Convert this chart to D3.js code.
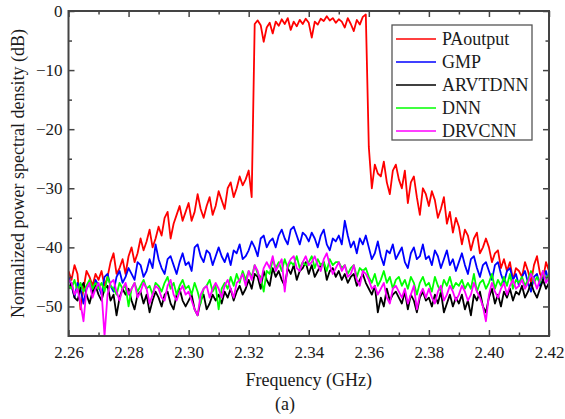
<!DOCTYPE html>
<html>
<head>
<meta charset="utf-8">
<script src="https://cdn.jsdelivr.net/npm/d3@7"></script>
<style>
  body { margin: 0; background: #fff; }
  svg text { font-family: "Liberation Serif", "Times New Roman", Times, "DejaVu Serif", serif; }
</style>
</head>
<body>
<div id="chart"></div>
<script>
// frequency grid, 1 MHz steps from 2.260 to 2.420 GHz
const freq = d3.range(161).map(i => +(2.26 + i * 0.001).toFixed(3));

const seriesNames = ["PAoutput", "GMP", "ARVTDNN", "DNN", "DRVCNN"];
const seriesColors = ["#ff0000", "#0000ff", "#000000", "#00ff00", "#ff00ff"];

const xTicks = [2.26, 2.28, 2.30, 2.32, 2.34, 2.36, 2.38, 2.40, 2.42];
const yTicks = [-50, -40, -30, -20, -10, 0];

// dB
const paOutput = [
  -44, -45.5, -43, -44.5, -50.5, -47, -44, -45, -46.5, -44.5,
  -45.5, -44, -46.5, -45, -42.5, -41, -44.5, -43.5, -42, -44.5,
  -41.5, -40, -42.5, -41, -38.5, -40.5, -39, -37, -40, -38.5,
  -36.5, -38, -35, -34, -38.5, -36, -34.5, -33, -35.5, -34,
  -32.5, -35.5, -34, -31, -33.5, -35, -33, -31.5, -34.5, -33,
  -30.5, -32, -33.5, -30, -29, -31.5, -30, -28, -29.5, -28.5,
  -27, -31.5,
  -2.2, -1.6, -2.4, -5.2, -2.8, -2, -3.8, -1.8, -2.5, -1.4,
  -2.2, -1.2, -3.2, -1.8, -2.6, -1.5, -2.2, -1.3, -2, -4.5,
  -1.8, -2.3, -1.3, -1.7, -0.9, -1.6, -1.2, -2, -1.4, -1.8,
  -2.8, -1.2, -2.2, -3.4, -1.5, -2.3, -1, -0.6,
  -23, -30, -26, -27.5, -28, -25.5, -29, -31, -27, -26,
  -28.5, -30, -27, -32.5, -29, -28, -31.5, -34.5, -30, -31,
  -33, -30.5, -32, -35, -33.5, -31.5, -36, -34, -37.5, -35,
  -36.5, -39.5, -37, -38, -40.5, -38.5, -37.5, -41, -40, -38.5,
  -40, -42.5, -41, -40.5, -43.5, -42, -44, -42.5, -45.5, -43.5,
  -44, -45, -42.5, -44, -46, -43, -41.5, -44.5, -45.5, -42.5, -44
];

const gmp = [
  -45, -46.5, -48.5, -46, -47, -49.5, -47, -46, -48, -45.5,
  -46.5, -48, -45, -44.5, -46.5, -47.5, -45, -44, -46, -45,
  -43.5, -44.5, -45.5, -42.5, -43, -45, -44, -42, -43.5, -39.5,
  -42, -43.5, -44.5, -42, -41.5, -43, -44.5, -42.5, -41, -43,
  -42.5, -44, -40, -39.5, -41.5, -42.5, -40.5, -41, -43, -41.5,
  -40, -41.5, -42.5, -41, -43, -40.5, -41, -39.5, -42, -41.5,
  -40.5, -39, -40, -41.5, -38.5, -38, -40, -39, -38.5, -40,
  -38, -37, -38.5, -39.5, -37, -36.5, -38, -39.5, -37.5, -38,
  -39, -37.5, -38.5, -40, -38, -37, -39.5, -40.5, -38.5, -39,
  -38, -39.5, -35.5, -38, -40, -39, -41, -38.5, -39.5, -38,
  -40, -42, -41, -39, -41.5, -43, -40.5, -41, -39.5, -42,
  -41, -40, -42.5, -43.5, -41, -40, -42, -41.5, -39.5, -42,
  -41.5, -43, -40.5, -41.5, -43.5, -42, -40.5, -43, -42, -44,
  -42.5, -41, -43, -44.5, -42, -41.5, -43.5, -45, -43, -42.5,
  -44, -45.5, -43, -42.5, -44.5, -46, -44, -43.5, -45.5, -44.5,
  -46.5, -45, -44, -46, -47.5, -45, -44.5, -46.5, -45.5, -44, -46
];

const arvtdnn = [
  -47, -46, -48.5, -49, -47, -46, -48, -49.5, -47.5, -46.5,
  -48, -49, -47, -46.5, -49, -48, -51.5, -48.5, -47, -48,
  -47, -49, -50.5, -48, -47.5, -49.5, -48, -51, -49, -47.5,
  -48.5, -50, -48, -47.5, -49.5, -50.5, -48, -47, -49, -50,
  -49, -48, -50.5, -51.5, -49, -48, -50.5, -49.5, -48, -49,
  -48, -49.5, -47.5, -48.5, -47, -49, -47.5, -46.5, -48, -47,
  -45.5, -47, -44.5, -45, -47, -44, -45.5, -46.5, -43.5, -45,
  -44, -45.5, -46.5, -43.5, -44.5, -43, -45.5, -44, -43.5, -42.5,
  -44.5, -43, -45, -44, -43, -42.5, -45.5, -44, -43.5, -45,
  -44, -45.5, -44.5, -46, -45, -44.5, -46.5, -45.5, -44.5, -46,
  -47, -48, -46.5, -51, -48.5, -50, -47, -49, -48, -47.5,
  -48.5, -49.5, -47.5, -50.5, -48, -49, -51, -48.5, -47.5, -49,
  -48.5, -50, -48, -49.5, -47.5, -51, -49.5, -48, -50, -48.5,
  -49.5, -48, -50.5, -49, -51.5, -48, -49, -47.5, -50, -51,
  -48.5, -47, -49.5, -48, -50, -47.5, -48.5, -47, -49, -47.5,
  -48, -46.5, -48.5, -47.5, -46, -47.5, -48.5, -47, -45.5, -47, -46
];

const dnn = [
  -46.5, -47, -45.5, -47.5, -46, -47.5, -46.5, -45.5, -47, -46,
  -47, -46, -47.5, -45, -46.5, -47, -48, -46, -47, -46.5,
  -50, -47, -46, -47.5, -46.5, -45.5, -47, -46.5, -48, -46,
  -46.5, -47.5, -46, -45, -47, -46, -48, -46.5, -45.5, -47,
  -46.5, -48, -46, -47.5, -49.5, -47, -46.5, -45.5, -47.5, -46.5,
  -50.5, -47, -46, -47, -45, -46.5, -44.5, -46, -44, -45.5,
  -44, -45, -43, -44.5, -45, -47.5, -44, -44.5, -42, -43.5,
  -42.5, -44, -42, -43.5, -42.5, -43, -41.5, -43.5, -42.5, -43,
  -42.5, -41.5, -43.5, -42, -43, -42.5, -44, -42, -43, -42.5,
  -42.5, -43.5, -43, -44.5, -43.5, -43, -45, -43.5, -44, -43.5,
  -45, -46, -44.5, -46.5, -45.5, -44, -46, -45, -47, -45.5,
  -45, -46.5, -45.5, -47, -45, -46, -48, -46, -45, -46.5,
  -46, -47.5, -45, -46.5, -47.5, -45.5, -46.5, -45, -47, -46,
  -46.5, -45.5, -47, -46, -47, -44.5, -47.5, -46, -45.5, -47,
  -46, -44.5, -47, -45.5, -46.5, -45, -46.5, -44.5, -47, -45.5,
  -46, -45, -46.5, -45.5, -44, -46, -45, -46, -44, -45.5, -44.5
];

const drvcnn = [
  -45.5, -46, -48, -47, -49.5, -52.5, -47, -46, -48.5, -47,
  -46, -47.5, -55, -48, -46, -45.5, -47.5, -49, -47, -46,
  -48, -47, -46, -48.5, -47.5, -46, -47, -49.5, -48, -46.5,
  -47, -48.5, -49, -46.5, -45.5, -48, -49, -47.5, -46.5, -48,
  -47.5, -49, -50.5, -51.5, -48, -47, -46.5, -48.5, -47, -46,
  -47, -48.5, -46.5, -45.5, -47, -48.5, -46, -45.5, -44.5, -46.5,
  -44, -45.5, -43, -44, -46, -43.5, -42.5, -43.5, -41.5, -44,
  -43, -42, -47.5, -43, -42, -41.5, -43.5, -44, -42.5, -41.5,
  -43, -42.5, -41.5, -43, -44, -42, -41, -43, -44.5, -43.5,
  -42.5, -44, -43, -45, -44.5, -43, -45.5, -46.5, -44, -44.5,
  -45.5, -47, -46.5, -48, -47, -46, -48.5, -49.5, -47, -46.5,
  -47.5, -48.5, -47, -49.5, -48, -46.5, -50.5, -48, -47, -48.5,
  -47, -48.5, -49.5, -47.5, -46.5, -49, -48, -46.5, -47.5, -49,
  -48, -46.5, -47.5, -49, -48, -46, -47.5, -48.5, -50, -52.5,
  -48, -46, -47.5, -48.5, -47, -46, -48, -46.5, -45.5, -47,
  -46.5, -45.5, -47, -46, -44.5, -45.5, -47, -45.5, -44, -46, -45
];

const seriesValues = [paOutput, gmp, arvtdnn, dnn, drvcnn];

const width = 565, height = 419;
const margin = { top: 11, right: 16, bottom: 83, left: 68.5 };
const serif = "'Liberation Serif', 'Times New Roman', Times, serif";

const svg = d3.select("#chart").append("svg")
    .attr("width", width)
    .attr("height", height)
    .style("display", "block");

const x = d3.scaleLinear()
    .domain([2.26, 2.42])
    .range([margin.left, width - margin.right]);
const y = d3.scaleLinear()
    .domain([-55, 0])
    .range([height - margin.bottom, margin.top]);

const axisColor = "#444";
const textColor = "#1a1a1a";
const plotH = y(-55) - y(0);
const plotW = x(2.42) - x(2.26);

svg.append("clipPath").attr("id", "clip")
  .append("rect")
    .attr("x", x(2.26)).attr("y", y(0))
    .attr("width", plotW).attr("height", plotH);

// spectra, drawn in legend order so DRVCNN ends up on top
const line = d3.line()
    .x((d, i) => x(freq[i]))
    .y(d => y(d));

svg.append("g")
    .attr("clip-path", "url(#clip)")
  .selectAll("path")
  .data(seriesValues)
  .join("path")
    .attr("fill", "none")
    .attr("stroke", (d, i) => seriesColors[i])
    .attr("stroke-width", 1.8)
    .attr("stroke-linejoin", "round")
    .attr("d", line);

// axes, ticks point inward on all four sides
const xMinor = [2.27, 2.29, 2.31, 2.33, 2.35, 2.37, 2.39, 2.41];
const yMinor = [-45, -35, -25, -15, -5];

function styleAxis(g) {
  g.attr("font-family", serif).attr("font-size", 17);
  g.select(".domain").remove();
  g.selectAll(".tick line").attr("stroke", axisColor).attr("stroke-width", 1.5);
  g.selectAll(".tick text").attr("fill", textColor);
}

const bottomY = y(-55), topY = y(0), leftX = x(2.26), rightX = x(2.42);

svg.append("g")
    .attr("transform", "translate(0," + bottomY + ")")
    .call(d3.axisBottom(x).tickValues(xTicks).tickSize(-6).tickPadding(10)
      .tickFormat(d3.format(".2f")))
    .call(styleAxis);
svg.append("g")
    .attr("transform", "translate(0," + bottomY + ")")
    .call(d3.axisBottom(x).tickValues(xMinor).tickSize(-3.5).tickFormat(""))
    .call(styleAxis);
svg.append("g")
    .attr("transform", "translate(0," + topY + ")")
    .call(d3.axisTop(x).tickValues(xTicks).tickSize(-6).tickFormat(""))
    .call(styleAxis);
svg.append("g")
    .attr("transform", "translate(0," + topY + ")")
    .call(d3.axisTop(x).tickValues(xMinor).tickSize(-3.5).tickFormat(""))
    .call(styleAxis);

svg.append("g")
    .attr("transform", "translate(" + leftX + ",0)")
    .call(d3.axisLeft(y).tickValues(yTicks).tickSize(-6).tickPadding(6)
      .tickFormat(d3.format("d")))
    .call(styleAxis);
svg.append("g")
    .attr("transform", "translate(" + leftX + ",0)")
    .call(d3.axisLeft(y).tickValues(yMinor).tickSize(-3.5).tickFormat(""))
    .call(styleAxis);
svg.append("g")
    .attr("transform", "translate(" + rightX + ",0)")
    .call(d3.axisRight(y).tickValues(yTicks).tickSize(-6).tickFormat(""))
    .call(styleAxis);
svg.append("g")
    .attr("transform", "translate(" + rightX + ",0)")
    .call(d3.axisRight(y).tickValues(yMinor).tickSize(-3.5).tickFormat(""))
    .call(styleAxis);

// frame
svg.append("rect")
    .attr("x", leftX).attr("y", topY)
    .attr("width", plotW).attr("height", plotH)
    .attr("fill", "none")
    .attr("stroke", axisColor)
    .attr("stroke-width", 2);

// axis titles
svg.append("text")
    .attr("x", (leftX + rightX) / 2)
    .attr("y", 386)
    .attr("text-anchor", "middle")
    .attr("font-family", serif)
    .attr("font-size", 18)
    .attr("fill", textColor)
    .text("Frequency (GHz)");

svg.append("text")
    .attr("x", 285)
    .attr("y", 410)
    .attr("text-anchor", "middle")
    .attr("font-family", serif)
    .attr("font-size", 18)
    .attr("fill", textColor)
    .text("(a)");

svg.append("text")
    .attr("transform", "translate(24," + ((topY + bottomY) / 2) + ") rotate(-90)")
    .attr("text-anchor", "middle")
    .attr("font-family", serif)
    .attr("font-size", 18)
    .attr("fill", textColor)
    .text("Normalized power spectral density (dB)");

// legend
const legend = svg.append("g").attr("transform", "translate(392,25)");

legend.append("rect")
    .attr("width", 140).attr("height", 115)
    .attr("fill", "#fff")
    .attr("stroke", "#555")
    .attr("stroke-width", 1.3);

const items = legend.selectAll("g.item")
  .data(seriesNames)
  .join("g")
    .attr("class", "item")
    .attr("transform", (d, i) => "translate(0," + (14 + i * 23) + ")");

items.append("line")
    .attr("x1", 4).attr("x2", 44)
    .attr("stroke", (d, i) => seriesColors[i])
    .attr("stroke-width", 1.6);

items.append("text")
    .attr("x", 50)
    .attr("dy", "0.35em")
    .attr("font-family", serif)
    .attr("font-size", 18)
    .attr("fill", textColor)
    .text(d => d);
</script>
</body>
</html>
